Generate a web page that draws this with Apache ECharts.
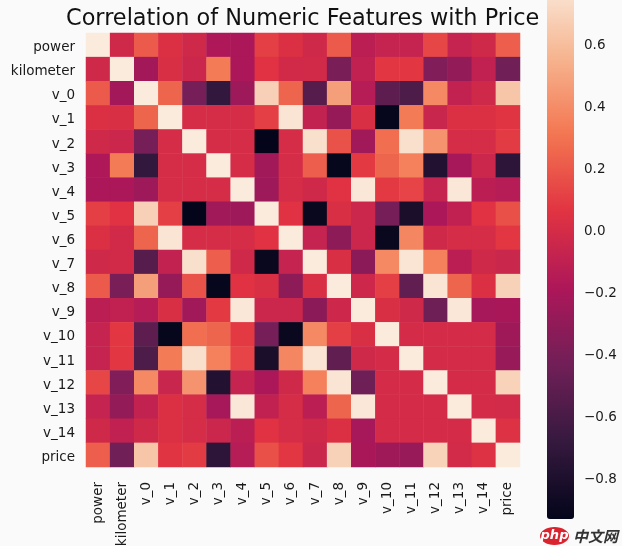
<!DOCTYPE html>
<html>
<head>
<meta charset="utf-8">
<style>
  html, body { margin: 0; padding: 0; background: #fafafa; }
  #main { width: 622px; height: 546px; }
</style>
<script src="https://cdn.jsdelivr.net/npm/echarts@6/dist/echarts.min.js"></script>
</head>
<body>
<div id="main"></div>
<script>
const features = ['power', 'kilometer', 'v_0', 'v_1', 'v_2', 'v_3', 'v_4', 'v_5', 'v_6',
  'v_7', 'v_8', 'v_9', 'v_10', 'v_11', 'v_12', 'v_13', 'v_14', 'price'];

// row by row, same order as features
const corr = [
  [1, -0.03, 0.2, 0.03, -0.03, -0.18, -0.2, 0.1, 0.03, -0.03, 0.2, -0.13, -0.08, -0.08, 0.13, -0.08, -0.03, 0.22],
  [-0.03, 1, -0.23, 0.02, -0.05, 0.33, -0.2, 0.05, -0.02, -0.02, -0.4, -0.1, 0.07, 0.07, -0.37, -0.3, -0.1, -0.44],
  [0.2, -0.23, 1, 0.24, -0.42, -0.7, -0.25, 0.68, 0.24, -0.55, 0.47, -0.15, -0.52, -0.58, 0.38, -0.09, -0.03, 0.63],
  [0.03, 0.02, 0.24, 1, 0, 0, 0, 0.1, 0.77, -0.09, -0.28, 0.02, -0.92, 0.33, -0.06, 0.03, 0.03, 0.06],
  [-0.03, -0.05, -0.42, 0, 1, 0, 0, -0.93, 0, 0.75, 0.17, -0.24, 0.28, 0.75, 0.42, 0, 0, 0.085],
  [-0.18, 0.33, -0.7, 0, 0, 1, 0, -0.24, 0, 0.22, -0.92, 0.08, 0.24, 0.35, -0.78, -0.22, -0.05, -0.73],
  [-0.2, -0.2, -0.25, 0, 0, 0, 1, -0.25, 0, -0.03, 0.05, 0.78, 0.08, 0.12, -0.08, 0.78, -0.13, -0.147],
  [0.1, 0.05, 0.68, 0.1, -0.93, -0.24, -0.25, 1, 0.05, -0.9, 0.02, -0.05, -0.42, -0.82, -0.2, -0.1, 0.05, 0.164],
  [0.03, -0.02, 0.24, 0.77, 0, 0, 0, 0.05, 1, -0.08, -0.32, -0.05, -0.9, 0.37, -0.03, 0, 0, 0.069],
  [-0.03, -0.02, -0.55, -0.09, 0.75, 0.22, -0.03, -0.9, -0.08, 1, 0.02, -0.33, 0.38, 0.77, 0.35, -0.13, -0.03, -0.053],
  [0.2, -0.4, 0.47, -0.28, 0.17, -0.92, 0.05, 0.02, -0.32, 0.02, 1, -0.04, 0.1, -0.5, 0.77, 0.24, 0.03, 0.685],
  [-0.13, -0.1, -0.15, 0.02, -0.24, 0.08, 0.78, -0.05, -0.05, -0.33, -0.04, 1, 0.02, -0.03, -0.45, 0.78, -0.22, -0.206],
  [-0.08, 0.07, -0.52, -0.92, 0.28, 0.24, 0.08, -0.42, -0.9, 0.38, 0.1, 0.02, 1, -0.01, -0.01, -0.01, -0.01, -0.246],
  [-0.08, 0.07, -0.58, 0.33, 0.75, 0.35, 0.12, -0.82, 0.37, 0.77, -0.5, -0.03, -0.01, 1, -0.01, -0.01, -0.01, -0.275],
  [0.13, -0.37, 0.38, -0.06, 0.42, -0.78, -0.08, -0.2, -0.03, 0.35, 0.77, -0.45, -0.01, -0.01, 1, -0.01, -0.01, 0.69],
  [-0.08, -0.3, -0.09, 0.03, 0, -0.22, 0.78, -0.1, 0, -0.13, 0.24, 0.78, -0.01, -0.01, -0.01, 1, -0.01, -0.014],
  [-0.03, -0.1, -0.03, 0.03, 0, -0.05, -0.13, 0.05, 0, -0.03, 0.03, -0.22, -0.01, -0.01, -0.01, -0.01, 1, 0.036],
  [0.22, -0.44, 0.63, 0.06, 0.085, -0.73, -0.147, 0.164, 0.069, -0.053, 0.685, -0.206, -0.246, -0.275, 0.69, -0.014, 0.036, 1]
];

const colorbarTicks = [0.6, 0.4, 0.2, 0, -0.2, -0.4, -0.6, -0.8];
const vmin = -0.934;
const vmax = 0.8; // colours stop here, the diagonal is clamped. bar runs past the top of the picture
const visibleMax = 0.74; // value at the top edge of the picture, grid can't start above 0

const rocket = ['#03051a', '#35193e', '#701f57', '#ad1759', '#e13342', '#f37651', '#f6b48f', '#faebdd'];

const fontFamily = '"DejaVu Sans", sans-serif';
const textColor = '#1a1a1a';

let cells = [];
corr.forEach(function (row, y) {
  row.forEach(function (v, x) {
    cells.push([x, y, Math.min(v, vmax)]);
  });
});

let myChart = echarts.init(document.getElementById('main'));

let option = {
  animation: false,
  backgroundColor: '#fafafa',
  textStyle: { fontFamily: fontFamily },
  title: {
    text: 'Correlation of Numeric Features with Price',
    left: 66,
    top: 8,
    padding: 0,
    textStyle: { fontFamily: fontFamily, fontSize: 22.4, fontWeight: 'normal', color: '#111' }
  },
  grid: [
    { left: 86, top: 33, width: 434, height: 434, outerBoundsMode: 'none' },
    { left: 547, top: 0, width: 27, height: 519, outerBoundsMode: 'none' }
  ],
  xAxis: [{
    type: 'category',
    data: features,
    axisLine: { show: false },
    axisTick: { alignWithLabel: true, length: 5, lineStyle: { color: '#222' } },
    axisLabel: { interval: 0, rotate: 90, fontSize: 13.5, color: textColor, margin: 15 },
    splitLine: { show: false }
  }, {
    gridIndex: 1,
    type: 'value',
    show: false
  }],
  yAxis: [{
    type: 'category',
    data: features,
    inverse: true,
    axisLine: { show: false },
    axisTick: { alignWithLabel: true, length: 5, lineStyle: { color: '#222' } },
    // top aligned with a short line box: drops the text a little below the tick
    axisLabel: { interval: 0, fontSize: 13.5, color: textColor, margin: 11, verticalAlign: 'top', lineHeight: 5 },
    splitLine: { show: false }
  }, {
    gridIndex: 1,
    type: 'value',
    position: 'right',
    min: vmin,
    max: visibleMax,
    axisLine: { show: false },
    splitLine: { show: false },
    axisTick: { show: true, length: 5, customValues: colorbarTicks, lineStyle: { color: '#222' } },
    axisLabel: {
      customValues: colorbarTicks,
      fontSize: 13.5,
      color: textColor,
      margin: 10,
      verticalAlign: 'top',
      lineHeight: 4,
      formatter: function (v) { return v.toFixed(1).replace('-', '\u2212'); }
    }
  }],
  visualMap: {
    type: 'continuous',
    seriesIndex: 0,
    min: vmin,
    max: vmax,
    calculable: false,
    left: 547,
    top: -19,
    padding: 0,
    itemWidth: 27,
    itemHeight: 538,
    inRange: { color: rocket }
  },
  graphic: [
    { type: 'ellipse', shape: { cx: 554.5, cy: 536, rx: 14.5, ry: 9 }, style: { fill: '#d9232e' } },
    { type: 'text', x: 554.5, y: 536, style: { text: 'php', fill: '#fff', font: 'italic bold 13px "DejaVu Sans"', align: 'center', verticalAlign: 'middle' } },
    { type: 'text', x: 573, y: 536, style: { text: '中文网', fill: '#333', font: 'italic bold 15px "Noto Sans CJK SC"', verticalAlign: 'middle' } }
  ],
  series: [{
    type: 'heatmap',
    xAxisIndex: 0,
    yAxisIndex: 0,
    data: cells,
    itemStyle: { borderWidth: 0 },
    emphasis: { disabled: true }
  }]
};

myChart.setOption(option);
</script>
</body>
</html>
